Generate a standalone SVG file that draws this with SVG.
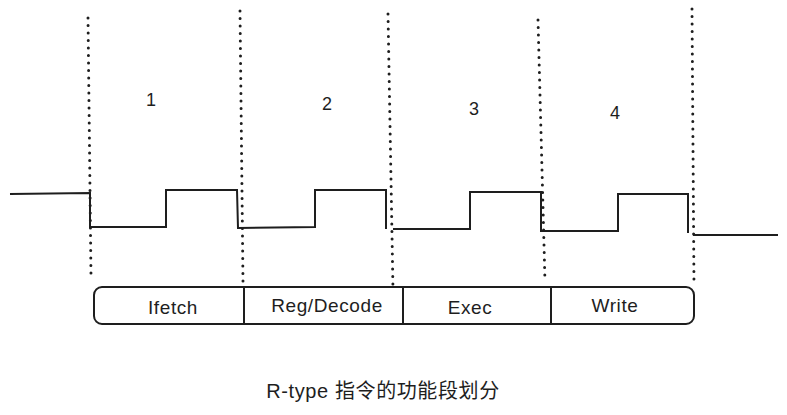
<svg xmlns="http://www.w3.org/2000/svg" width="787" height="415" viewBox="0 0 787 415">
<style>
.dot{stroke:#1e1e1e;stroke-width:3;stroke-linecap:round;stroke-dasharray:0 7.5;fill:none}
.wave{stroke:#1e1e1e;stroke-width:2;fill:none;stroke-linejoin:miter}
.box{stroke:#1e1e1e;stroke-width:2;fill:none}
.t{font-family:"Liberation Sans","Noto Sans CJK SC",sans-serif;font-size:19px;letter-spacing:0.6px;fill:#1e1e1e;text-anchor:middle}
.n{font-family:"Liberation Sans",sans-serif;font-size:18px;fill:#1e1e1e;text-anchor:middle}
.cap{font-family:"Liberation Sans","Noto Sans CJK SC",sans-serif;font-size:20px;letter-spacing:0.6px;fill:#1e1e1e;text-anchor:middle}
</style>
<rect width="787" height="415" fill="#ffffff"/>
<g id="dividers">
<path class="dot" d="M88 18 L91 276"/>
<path class="dot" d="M240 11 L243 282"/>
<path class="dot" d="M388 14 L393 290"/>
<path class="dot" d="M538 20 L545 282"/>
<path class="dot" d="M692 9 L694 286"/>
</g>
<g id="connectors">
<path class="wave" d="M10 194 L90 193 L90 227 L166 227 L166 190 L237 190 L238 228 L315 227 L315 190 L386 190 L386 229"/>
<path class="wave" d="M393 229 L470 229 L470 192 L541 192 L541 231 L618 231 L618 194 L688 194 L688 233"/>
<path class="wave" d="M693 235 L778 235"/>
</g>
<g id="labels">
<text class="n" x="151" y="106">1</text>
<text class="n" x="327" y="110">2</text>
<text class="n" x="474" y="115">3</text>
<text class="n" x="615" y="119">4</text>
</g>
<g id="stages">
<rect class="box" x="94" y="287" width="600" height="37" rx="8"/>
<line class="box" x1="244" y1="287" x2="244" y2="324"/>
<line class="box" x1="403" y1="287" x2="403" y2="324"/>
<line class="box" x1="551" y1="287" x2="551" y2="324"/>
</g>
<g id="stage-ifetch"><text class="t" x="173" y="314">Ifetch</text></g>
<g id="stage-regdecode"><text class="t" x="327" y="312">Reg/Decode</text></g>
<g id="stage-exec"><text class="t" x="470" y="314">Exec</text></g>
<g id="stage-write"><text class="t" x="615" y="312">Write</text></g>
<g id="caption"><text class="cap" x="383" y="398">R-type 指令的功能段划分</text></g>
</svg>
